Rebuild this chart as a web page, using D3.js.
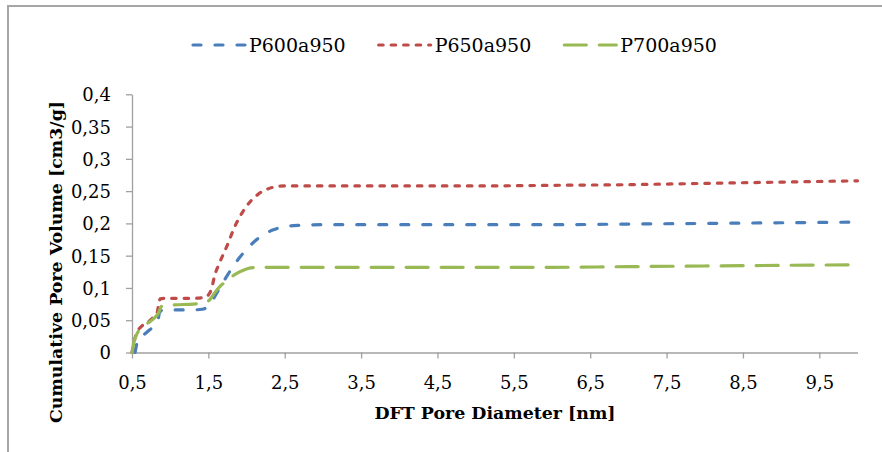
<!DOCTYPE html>
<html>
<head>
<meta charset="utf-8">
<script src="https://cdn.jsdelivr.net/npm/d3@7"></script>
<style>
  html, body { margin: 0; padding: 0; background: #fff; }
  svg { display: block; }
  text { font-family: "DejaVu Serif", "Liberation Serif", serif; fill: #000; }
</style>
</head>
<body>
<svg id="chart" width="882" height="452"></svg>
<script>
// Cumulative pore volume (cm3/g) against DFT pore diameter (nm)
const seriesNames = ["P600a950", "P650a950", "P700a950"];
const seriesColors = ["#4a7ebb", "#be4b48", "#98b954"];
const seriesDash = ["8,14", "4.5,8", "22,13"];

const diamP600 = [0.54,0.56,0.59,0.65,0.72,0.80,0.84,0.86,0.90,0.95,1.10,1.30,1.42,1.48,1.53,1.58,1.65,1.74,1.85,1.95,2.05,2.20,2.35,2.50,2.70,3.00,4.00,5.00,6.00,7.00,8.00,9.00,10.00];
const volP600  = [0,0.012,0.022,0.027,0.034,0.043,0.050,0.062,0.066,0.066,0.066,0.066,0.067,0.070,0.076,0.086,0.100,0.118,0.138,0.153,0.166,0.181,0.190,0.195,0.197,0.198,0.198,0.198,0.198,0.199,0.200,0.201,0.202];

const diamP650 = [0.50,0.53,0.56,0.62,0.70,0.78,0.83,0.85,0.87,0.95,1.10,1.30,1.45,1.50,1.54,1.58,1.65,1.74,1.85,1.95,2.05,2.15,2.25,2.35,2.50,2.70,3.00,4.00,5.00,6.00,7.00,8.00,9.00,10.00];
const volP650  = [0,0.018,0.030,0.040,0.046,0.055,0.062,0.075,0.083,0.084,0.084,0.084,0.085,0.089,0.098,0.118,0.140,0.164,0.196,0.218,0.234,0.245,0.252,0.256,0.258,0.258,0.258,0.258,0.258,0.259,0.260,0.262,0.264,0.266];

const diamP700 = [0.50,0.53,0.57,0.62,0.70,0.78,0.85,0.88,0.95,1.10,1.30,1.45,1.52,1.58,1.65,1.74,1.85,1.95,2.05,2.15,2.30,2.50,3.00,4.00,5.00,6.00,7.00,8.00,9.00,10.00];
const volP700  = [0,0.018,0.030,0.038,0.045,0.052,0.062,0.071,0.073,0.074,0.075,0.077,0.082,0.092,0.102,0.111,0.121,0.127,0.131,0.132,0.132,0.132,0.132,0.132,0.132,0.132,0.133,0.134,0.135,0.136];

const xTicks = [0.5,1.5,2.5,3.5,4.5,5.5,6.5,7.5,8.5,9.5];
const yTicks = [0,0.05,0.1,0.15,0.2,0.25,0.3,0.35,0.4];

const xTitle = "DFT Pore Diameter [nm]";
const yTitle = "Cumulative Pore Volume [cm3/g]";

const series = [
  { name: seriesNames[0], color: seriesColors[0], dash: seriesDash[0], d: diamP600, v: volP600 },
  { name: seriesNames[1], color: seriesColors[1], dash: seriesDash[1], d: diamP650, v: volP650 },
  { name: seriesNames[2], color: seriesColors[2], dash: seriesDash[2], d: diamP700, v: volP700 }
];

const svg = d3.select("#chart");
const axisColor = "#a0a0a0";
const fmt = v => String(v).replace(".", ",");

// outer frame (top and left edges visible)
svg.append("path")
  .attr("d", "M8,452 L8,6 L882,6")
  .attr("fill", "none").attr("stroke", "#a6a6a6").attr("stroke-width", 2);

const plot = { left: 132, right: 857.5, top: 94.3, bottom: 352.5 };
const x = d3.scaleLinear().domain([0.5, 10]).range([plot.left, plot.right]);
const y = d3.scaleLinear().domain([0, 0.4]).range([plot.bottom, plot.top]);

// x axis
const xAxis = svg.append("g")
  .attr("transform", `translate(0,${plot.bottom})`)
  .call(d3.axisBottom(x).tickValues(xTicks).tickFormat(fmt).tickSizeInner(6).tickSizeOuter(0).tickPadding(18));
// y axis
const yAxis = svg.append("g")
  .attr("transform", `translate(${plot.left},0)`)
  .call(d3.axisLeft(y).tickValues(yTicks).tickFormat(fmt).tickSizeInner(6).tickSizeOuter(0).tickPadding(15));

[xAxis, yAxis].forEach(g => {
  g.select(".domain").attr("stroke", axisColor).attr("stroke-width", 1.3);
  g.selectAll(".tick line").attr("stroke", axisColor).attr("stroke-width", 1.3);
  g.selectAll(".tick text")
    .attr("font-family", "DejaVu Serif")
    .attr("font-size", 18)
    .attr("fill", "#000");
});
yAxis.selectAll(".tick text").attr("dy", "0.36em");

// curves
const line = d3.line()
  .x(p => x(p[0]))
  .y(p => y(p[1]))
  .curve(d3.curveMonotoneX);

series.forEach(s => {
  const pts = s.d.map((d, i) => [d, s.v[i]]);
  svg.append("path")
    .datum(pts)
    .attr("fill", "none")
    .attr("stroke", s.color)
    .attr("stroke-width", 3.2)
    .attr("stroke-linecap", "round")
    .attr("stroke-dasharray", s.dash)
    .attr("d", line);
});

// axis titles
svg.append("text")
  .attr("x", 495).attr("y", 413)
  .attr("text-anchor", "middle").attr("dominant-baseline", "central")
  .attr("font-weight", "bold").attr("font-size", 17.4)
  .text(xTitle);

svg.append("text")
  .attr("transform", "translate(56,262) rotate(-90)")
  .attr("text-anchor", "middle").attr("dominant-baseline", "central")
  .attr("font-weight", "bold").attr("font-size", 17.4)
  .text(yTitle);

// legend
const legend = svg.append("g");
let lx = 193;
const ly = 45;
series.forEach(s => {
  legend.append("line")
    .attr("x1", lx).attr("x2", lx + 52)
    .attr("y1", ly).attr("y2", ly)
    .attr("stroke", s.color).attr("stroke-width", 3.2)
    .attr("stroke-linecap", "round")
    .attr("stroke-dasharray", s.dash);
  const t = legend.append("text")
    .attr("x", lx + 56).attr("y", ly)
    .attr("dominant-baseline", "central")
    .attr("font-size", 19)
    .text(s.name);
  lx = lx + 56 + t.node().getComputedTextLength() + 33;
});
</script>
</body>
</html>
